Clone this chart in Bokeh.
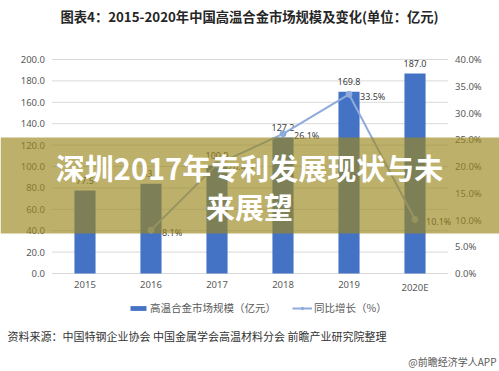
from bokeh.plotting import figure
from bokeh.models import (Range1d, FactorRange, Label, BoxAnnotation, Legend, LegendItem, Grid)
from bokeh.core.properties import value
from bokeh.embed import file_html
from bokeh.resources import INLINE

# ---- data ----
years = ["2015", "2016", "2017", "2018", "2019", "2020E"]
market = [77.5, 83.8, 100.9, 127.2, 169.8, 187.0]
growth_years = ["2016", "2017", "2018", "2019", "2020E"]
growth = [8.1, 20.4, 26.1, 33.5, 10.1]
left_ticks = [0, 20, 40, 60, 80, 100, 120, 140, 160, 180, 200]
left_tick_labels = [f"{t:.1f}" for t in left_ticks]
right_ticks = [0, 5, 10, 15, 20, 25, 30, 35, 40]
right_tick_labels = [f"{t:.1f}%" for t in right_ticks]

title_text = "图表4：2015-2020年中国高温合金市场规模及变化(单位：亿元)"
bar_name = "高温合金市场规模（亿元）"
line_name = "同比增长（%）"
source_text = "资料来源：中国特钢企业协会 中国金属学会高温材料分会 前瞻产业研究院整理"
brand_text = "@前瞻经济学人APP"
overlay_lines = ["深圳2017年专利发展现状与未", "来展望"]

CJK = "Noto Sans CJK SC"
NUM = "Noto Sans"

# ---- layout (pixels) ----
W, H = 499, 371
PLOT_TOP, PLOT_BOTTOM = 59, 273          # pixel rows of the value-axis max and zero
CAT_PAD = 0.78                           # category units left/right of the plot area

ymax_l, ymax_r = left_ticks[-1], right_ticks[-1]
kl = (PLOT_BOTTOM - PLOT_TOP) / ymax_l
kr = (PLOT_BOTTOM - PLOT_TOP) / ymax_r
y_left = Range1d(-(H - PLOT_BOTTOM) / kl, ymax_l + PLOT_TOP / kl)
y_right = Range1d(-(H - PLOT_BOTTOM) / kr, ymax_r + PLOT_TOP / kr)

p = figure(width=W, height=H, x_range=FactorRange(*years, range_padding=CAT_PAD,
                                                  range_padding_units="absolute"),
           y_range=y_left, output_backend="svg", toolbar_location=None,
           x_axis_location=None, y_axis_location=None, min_border=0)
p.center = [r for r in p.center if not isinstance(r, Grid)]
p.outline_line_color = None
p.extra_y_ranges = {"pct": y_right}

n = len(years)
# grid lines across the plot area
p.segment(x0=[0] * len(left_ticks), x1=[n] * len(left_ticks), y0=left_ticks, y1=left_ticks,
          line_color="#d9d9d9", line_width=1)

# bars
bars = p.vbar(x=years, top=market, width=0.32, fill_color="#4472c4", line_color=None)
p.text(x=years, y=market, text=[f"{v:.1f}" for v in market], text_align="center",
       text_baseline="middle", y_offset=-10, text_font_size="9px", text_color="#404040",
       text_font=value(NUM))

# growth line
ln = p.line(x=growth_years, y=growth, y_range_name="pct", line_color="#8faadc", line_width=2)
sc = p.scatter(x=growth_years, y=growth, y_range_name="pct", size=6, fill_color="#8faadc",
               line_color="#8faadc")
p.text(x=growth_years, y=growth, y_range_name="pct", text=[f"{g:.1f}%" for g in growth],
       text_align="left", text_baseline="middle", x_offset=11, y_offset=2,
       text_font_size="9px", text_color="#404040", text_font=value(NUM))

# tick labels
p.text(x=[0] * len(left_ticks), y=left_ticks, text=left_tick_labels, text_align="right",
       text_baseline="middle", x_offset=-7, text_font_size="9.5px", text_color="#595959",
       text_font=value(NUM))
p.text(x=[n] * len(right_ticks), y=right_ticks, y_range_name="pct", text=right_tick_labels,
       text_align="left", text_baseline="middle", x_offset=7, text_font_size="9.5px",
       text_color="#595959", text_font=value(NUM))
p.text(x=years, y=[0] * n, text=years, text_align="center", text_baseline="top", y_offset=7,
       text_font_size="9.5px", text_color="#595959", text_font=value(NUM))

# legend
legend = Legend(items=[LegendItem(label=bar_name, renderers=[bars]),
                       LegendItem(label=line_name, renderers=[ln, sc])],
                orientation="horizontal", location=(128, 56), padding=0, margin=0,
                spacing=16, label_standoff=2, glyph_width=20, glyph_height=6,
                label_height=6, border_line_color=None, background_fill_alpha=0,
                label_text_font_size="10.5px", label_text_color="#595959",
                label_text_font=CJK)
p.add_layout(legend)

# title & notes
p.add_layout(Label(x=249, y=H - 16, x_units="screen", y_units="screen", text=title_text,
                   text_align="center", text_baseline="middle", text_font=CJK,
                   text_font_size="13.3px", text_font_style="bold", text_color="#262626"))
p.add_layout(Label(x=7, y=H - 335, x_units="screen", y_units="screen", text=source_text,
                   text_align="left", text_baseline="middle", text_font=CJK,
                   text_font_size="11px", text_color="#333333"))
p.add_layout(Label(x=496, y=H - 361, x_units="screen", y_units="screen", text=brand_text,
                   text_align="right", text_baseline="middle", text_font=CJK,
                   text_font_size="10px", text_color="#595959"))

# overlay band and headline
p.add_layout(BoxAnnotation(left=0, right=W, bottom=H - 233, top=H - 137, left_units="screen",
                           right_units="screen", bottom_units="screen", top_units="screen",
                           fill_color="#9b871f", fill_alpha=0.66, line_color=None))
for txt, yy in zip(overlay_lines, [166, 205]):
    p.add_layout(Label(x=249, y=H - yy, x_units="screen", y_units="screen", text=txt,
                       text_align="center", text_baseline="middle", text_font=CJK,
                       text_font_size="29px", text_font_style="bold", text_color="white"))

open("out.html", "w").write(file_html(p, INLINE))
